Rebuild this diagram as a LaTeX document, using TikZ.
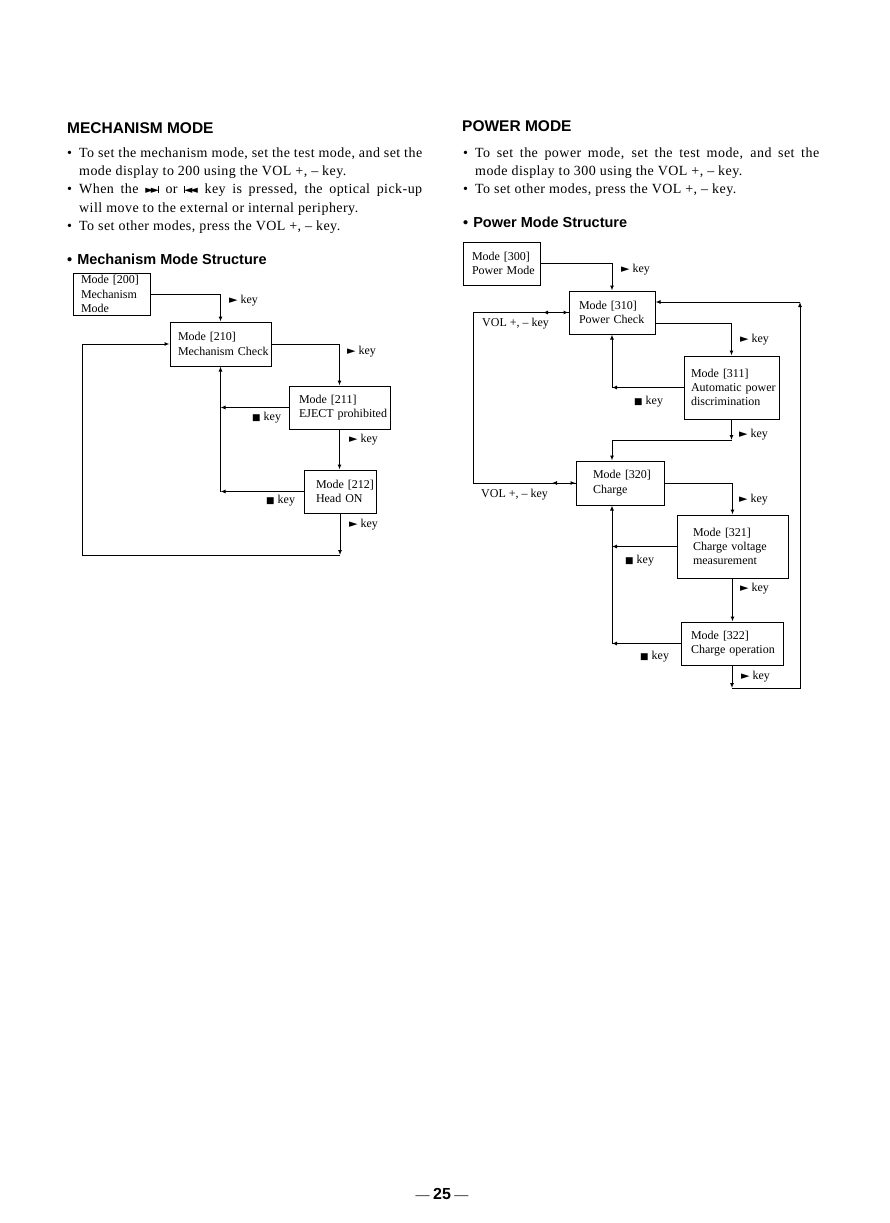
\documentclass[tikz,border=0pt]{standalone}
\usepackage{fontspec}
\setmainfont{Liberation Serif}
\newfontfamily\hdfont{Liberation Sans}
\newfontfamily\symfont{DejaVu Sans}
\newfontfamily\bodyfont[LetterSpace=3.2]{Liberation Serif}
\usetikzlibrary{arrows.meta}
\newcommand\PlayK{{\symfont\fontsize{11}{11}\selectfont\char"25BA}}
\newcommand\StopK{{\symfont\fontsize{9}{9}\selectfont\char"25A0}}
\newcommand\FFwd{{\symfont\fontsize{10.5}{10}\selectfont\char"25BA\kern-2.5pt\char"25BA\kern-1.2pt\rule{1.2pt}{7.5pt}}}
\newcommand\FRew{{\symfont\fontsize{10.5}{10}\selectfont\rule{1.2pt}{7.5pt}\kern-1.2pt\char"25C4\kern-2.5pt\char"25C4}}
\hyphenpenalty=10000
\exhyphenpenalty=10000
\begin{document}
\begin{tikzpicture}[x=1pt,y=-1pt,
  box/.style={draw, line width=1pt, inner ysep=0pt, align=left,
    font=\fontsize{12}{14.3}\selectfont},
  ln/.style={line width=1pt},
  arr/.style={line width=1pt, -{Latex[length=5pt,width=4pt]}},
  lbl/.style={inner sep=0pt, anchor=base west, font=\fontsize{12}{14}\selectfont},
  body/.style={inner sep=0pt, anchor=base west, font=\bodyfont\fontsize{14}{16}\selectfont},
  head/.style={inner sep=0pt, anchor=base west, font=\hdfont\bfseries\fontsize{15.5}{18}\selectfont},
  sub/.style={inner sep=0pt, anchor=base west, font=\hdfont\bfseries\fontsize{14.5}{16}\selectfont},
]
\useasboundingbox (0,0) rectangle (890,1223);
\fill[white] (0,0) rectangle (890,1223);

% ---------- left column text ----------
\node[head] (h1) at (67,133) {MECHANISM MODE};
\node[body] (bl1) at (67,157) {\textbullet};
\node[body] (l1) at (79,157) {\makebox[343pt][s]{To set the mechanism mode, set the test mode, and set the}};
\node[body] (l2) at (79,175) {mode display to 200 using the VOL +, – key.};
\node[body] (bl2) at (67,193) {\textbullet};
\node[body] (l3) at (79,193) {\makebox[343pt][s]{When the \FFwd{} or \FRew{} key is pressed, the optical pick-up}};
\node[body] (l4) at (79,212) {will move to the external or internal periphery.};
\node[body] (bl3) at (67,230) {\textbullet};
\node[body] (l5) at (79,230) {To set other modes, press the VOL +, – key.};
\node[sub] (s1) at (67,264) {\textbullet\hspace{5pt}Mechanism Mode Structure};

% ---------- right column text ----------
\node[head] (h2) at (462,131) {POWER MODE};
\node[body] (br1) at (463,157) {\textbullet};
\node[body] (r1) at (475,157) {\makebox[344pt][s]{To set the power mode, set the test mode, and set the}};
\node[body] (r2) at (475,175) {mode display to 300 using the VOL +, – key.};
\node[body] (br2) at (463,193) {\textbullet};
\node[body] (r3) at (475,193) {To set other modes, press the VOL +, – key.};
\node[sub] (s2) at (463,227) {\textbullet\hspace{5pt}Power Mode Structure};

% ---------- left diagram ----------
\node[box, inner xsep=8pt, text width=61pt, minimum height=42pt] (b200) at (111.5,294) {Mode [200]\\Mechanism\\Mode};
\node[box, inner xsep=8pt, text width=85pt, minimum height=44pt] (b210) at (220.5,344) {Mode [210]\\Mechanism~Check};
\node[box, inner xsep=10pt, text width=81pt, minimum height=43pt] (b211) at (339.5,407.5) {Mode [211]\\EJECT~prohibited};
\node[box, inner xsep=12pt, text width=48pt, minimum height=43pt] (b212) at (340,491.5) {Mode~[212]\\Head~ON};

\draw[arr] (b200.east) -| (b210.north);
\draw[arr] (b210.east) -| (b211.north);
\draw[arr] (b211.south) -- (b211.south |- b212.north);
\coordinate (j1) at (b210.south |- b211.west);
\coordinate (j2) at (b210.south |- b212.west);
\draw[arr] (b211.west) -- (j1);
\draw[arr] (b212.west) -- (j2);
\draw[arr] (j2) -- (b210.south);
\coordinate (c1) at (b212.south |- 0,555);
\coordinate (c2) at (82,555);
\draw[arr] (b212.south) -- (c1);
\draw[arr] (c1) -- (c2) -- (c2 |- b210.west) -- (b210.west);

\node[lbl] (k1) at (229,303) {\PlayK\ key};
\node[lbl] (k2) at (347,354) {\PlayK\ key};
\node[lbl] (k3) at (252,420) {\StopK\ key};
\node[lbl] (k4) at (349,442) {\PlayK\ key};
\node[lbl] (k5) at (266,503) {\StopK\ key};
\node[lbl] (k6) at (349,527) {\PlayK\ key};

% ---------- right diagram ----------
\node[box, inner xsep=9pt, text width=59pt, minimum height=43pt] (b300) at (501.5,263.5) {Mode [300]\\Power~Mode};
\node[box, inner xsep=10pt, text width=66pt, minimum height=43pt] (b310) at (612,312.5) {Mode [310]\\Power~Check};
\node[box, inner xsep=7pt, text width=81pt, minimum height=63pt] (b311) at (731.5,387.5) {Mode [311]\\Automatic~power\\discrimination};
\node[box, inner xsep=17pt, text width=54pt, minimum height=44pt] (b320) at (620,483) {Mode~[320]\\Charge};
\node[box, inner xsep=16pt, text width=79pt, minimum height=63pt] (b321) at (732.5,546.5) {Mode [321]\\Charge~voltage\\measurement};
\node[box, inner xsep=10pt, text width=82pt, minimum height=43pt] (b322) at (732,643.5) {Mode [322]\\Charge~operation};

\draw[arr] (b300.east) -| (b310.north);
\coordinate (p1) at ([yshift=-10.5pt]b310.east);
\coordinate (p2) at ([yshift=10.5pt]b310.east);
\draw[arr] (p1) -| (b311.north);
\coordinate (m1) at (b310.south |- b311.west);
\draw[arr] (b311.west) -- (m1);
\draw[arr] (m1) -- (b310.south);
\coordinate (q1) at (b311.south |- 0,440);
\draw[arr] (b311.south) -- (q1);
\draw[arr] (q1) -| (b310.south |- b320.north);

\coordinate (v1) at (473,312.5);
\coordinate (v2) at (473,483);
\coordinate (va) at (543,312.5);
\coordinate (vb) at (552,483);
\draw[arr] (b310.west) -- (va);
\draw[arr] (va) -- (b310.west);
\draw[ln] (va) -- (v1) -- (v2) -- (vb);
\draw[arr] (b320.west) -- (vb);
\draw[arr] (vb) -- (b320.west);

\draw[arr] (b320.east) -| (b321.north);
\coordinate (m2) at (b310.south |- b321.west);
\coordinate (m3) at (b310.south |- b322.west);
\draw[arr] (b321.west) -- (m2);
\draw[arr] (b322.west) -- (m3);
\draw[arr] (m3) -- (b310.south |- b320.south);
\draw[arr] (b321.south) -- (b321.south |- b322.north);
\coordinate (e1) at (b322.south |- 0,688);
\coordinate (e2) at (800,688);
\coordinate (e3) at (e2 |- p2);
\draw[arr] (b322.south) -- (e1);
\draw[arr] (e1) -- (e2) -- (e3);
\draw[arr] (e3) -- (p2);

\node[lbl] (n1) at (621,272) {\PlayK\ key};
\node[lbl] (n2) at (482,326) {VOL +, – key};
\node[lbl] (n3) at (740,342) {\PlayK\ key};
\node[lbl] (n4) at (634,404) {\StopK\ key};
\node[lbl] (n5) at (739,437) {\PlayK\ key};
\node[lbl] (n6) at (481,497) {VOL +, – key};
\node[lbl] (n7) at (739,502) {\PlayK\ key};
\node[lbl] (n8) at (625,563) {\StopK\ key};
\node[lbl] (n9) at (740,591) {\PlayK\ key};
\node[lbl] (n10) at (640,659) {\StopK\ key};
\node[lbl] (n11) at (741,679) {\PlayK\ key};

% ---------- page number ----------
\node[inner sep=0pt, anchor=base, font=\fontsize{14}{16}\selectfont] (pg) at (442,1199) {— {\hdfont\bfseries\fontsize{16}{16}\selectfont 25} —};
\end{tikzpicture}
\end{document}
